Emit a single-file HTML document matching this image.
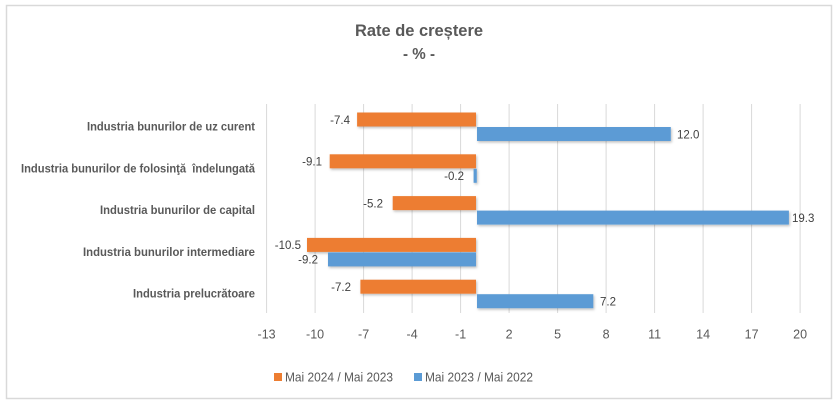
<!DOCTYPE html>
<html>
<head>
<meta charset="utf-8">
<style>
html,body{margin:0;padding:0;background:#fff;}
svg{display:block;}
text{font-family:"Liberation Sans",Arial,sans-serif;}
</style>
</head>
<body>
<svg width="836" height="403" viewBox="0 0 836 403" xmlns="http://www.w3.org/2000/svg">
<defs>
<filter id="sh" x="-5%" y="-30%" width="110%" height="180%">
<feDropShadow dx="1" dy="1.5" stdDeviation="1.2" flood-color="#000" flood-opacity="0.25"/>
</filter>
</defs>
<rect x="0" y="0" width="836" height="403" fill="#fff"/>
<rect x="6.5" y="5.5" width="825" height="393" fill="#fff" stroke="#D9D9D9" stroke-width="1.5"/>

<!-- title -->
<text x="419" y="36" text-anchor="middle" font-size="17" font-weight="bold" fill="#595959" textLength="128" lengthAdjust="spacingAndGlyphs">Rate de creștere</text>
<text x="419" y="59" text-anchor="middle" font-size="16" font-weight="bold" fill="#595959" textLength="32" lengthAdjust="spacingAndGlyphs">- % -</text>

<!-- gridlines -->
<g stroke="#D9D9D9" stroke-width="1">
<line x1="266.6" y1="104" x2="266.6" y2="313"/>
<line x1="315.1" y1="104" x2="315.1" y2="313"/>
<line x1="363.6" y1="104" x2="363.6" y2="313"/>
<line x1="412.1" y1="104" x2="412.1" y2="313"/>
<line x1="460.6" y1="104" x2="460.6" y2="313"/>
<line x1="509.1" y1="104" x2="509.1" y2="313"/>
<line x1="557.6" y1="104" x2="557.6" y2="313"/>
<line x1="606.1" y1="104" x2="606.1" y2="313"/>
<line x1="654.6" y1="104" x2="654.6" y2="313"/>
<line x1="703.1" y1="104" x2="703.1" y2="313"/>
<line x1="751.6" y1="104" x2="751.6" y2="313"/>
<line x1="800.1" y1="104" x2="800.1" y2="313"/>
</g>

<!-- bars -->
<g filter="url(#sh)">
<rect x="357.1" y="112.5" width="118.9" height="14" fill="#ED7D31"/>
<rect x="477" y="127" width="193.8" height="14" fill="#5B9BD5"/>
<rect x="329.7" y="154.3" width="146.3" height="14" fill="#ED7D31"/>
<rect x="473.6" y="168.8" width="3.2" height="14" fill="#5B9BD5"/>
<rect x="392.7" y="196.1" width="83.3" height="14" fill="#ED7D31"/>
<rect x="477" y="210.6" width="311.9" height="14" fill="#5B9BD5"/>
<rect x="307" y="237.9" width="169" height="14" fill="#ED7D31"/>
<rect x="328" y="252.4" width="148" height="14" fill="#5B9BD5"/>
<rect x="360.4" y="279.7" width="115.6" height="14" fill="#ED7D31"/>
<rect x="477" y="294.2" width="116.3" height="14" fill="#5B9BD5"/>
</g>

<!-- data labels -->
<g font-size="11.5" fill="#404040">
<text x="350" y="123.8" text-anchor="end">-7.4</text>
<text x="677" y="138.3">12.0</text>
<text x="322" y="165.6" text-anchor="end">-9.1</text>
<text x="464" y="180.1" text-anchor="end">-0.2</text>
<text x="383" y="207.4" text-anchor="end">-5.2</text>
<text x="792" y="221.9">19.3</text>
<text x="301" y="249.2" text-anchor="end">-10.5</text>
<text x="318" y="263.7" text-anchor="end">-9.2</text>
<text x="351" y="291" text-anchor="end">-7.2</text>
<text x="600" y="305.5">7.2</text>
</g>

<!-- category labels -->
<g font-size="11.5" font-weight="bold" fill="#595959" text-anchor="end">
<text x="255" y="130.5" textLength="168" lengthAdjust="spacingAndGlyphs">Industria bunurilor de uz curent</text>
<text x="255" y="172.3" textLength="234" lengthAdjust="spacingAndGlyphs" xml:space="preserve">Industria bunurilor de folosinţă  îndelungată</text>
<text x="255" y="214.1" textLength="155" lengthAdjust="spacingAndGlyphs">Industria bunurilor de capital</text>
<text x="255" y="255.9" textLength="172" lengthAdjust="spacingAndGlyphs">Industria bunurilor intermediare</text>
<text x="255" y="297.7" textLength="122" lengthAdjust="spacingAndGlyphs">Industria prelucrătoare</text>
</g>

<!-- x tick labels -->
<g font-size="12.5" fill="#595959" text-anchor="middle">
<text x="266.6" y="338.3">-13</text>
<text x="315.1" y="338.3">-10</text>
<text x="363.6" y="338.3">-7</text>
<text x="412.1" y="338.3">-4</text>
<text x="460.6" y="338.3">-1</text>
<text x="509.1" y="338.3">2</text>
<text x="557.6" y="338.3">5</text>
<text x="606.1" y="338.3">8</text>
<text x="654.6" y="338.3">11</text>
<text x="703.1" y="338.3">14</text>
<text x="751.6" y="338.3">17</text>
<text x="800.1" y="338.3">20</text>
</g>

<!-- legend -->
<rect x="274" y="373" width="8" height="8" fill="#ED7D31"/>
<text x="285" y="381.7" font-size="13" fill="#595959" textLength="108" lengthAdjust="spacingAndGlyphs">Mai 2024 / Mai 2023</text>
<rect x="414" y="373" width="8" height="8" fill="#5B9BD5"/>
<text x="425" y="381.7" font-size="13" fill="#595959" textLength="108" lengthAdjust="spacingAndGlyphs">Mai 2023 / Mai 2022</text>
</svg>
</body>
</html>
